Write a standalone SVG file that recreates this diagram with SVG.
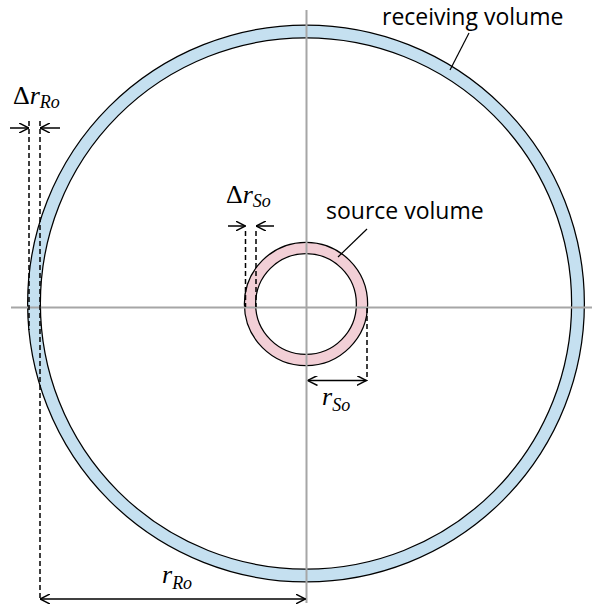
<svg xmlns="http://www.w3.org/2000/svg" width="592" height="611" viewBox="0 0 592 611">
<defs>
<marker id="ah" viewBox="0 0 10 10" refX="10" refY="5" markerWidth="10" markerHeight="10" markerUnits="userSpaceOnUse" orient="auto-start-reverse">
<path d="M0,0 L10,5 L0,10" fill="none" stroke="#000" stroke-width="1.5"/>
</marker>
<style>
.axis{stroke:#a6a6a6;stroke-width:2;fill:none}
.dash{stroke:#000;stroke-width:1.5;stroke-dasharray:5,3;fill:none}
.arr{stroke:#000;stroke-width:1.5;fill:none}
.lead{stroke:#000;stroke-width:1.2;fill:none}
.lbl{font-family:"Open Sans","Liberation Sans",sans-serif;font-size:23px;fill:#000}
.math{font-family:"Liberation Serif",serif;fill:#000}
</style>
</defs>
<rect width="592" height="611" fill="#fff"/>
<g id="receiving-volume">
<circle cx="306" cy="303.5" r="272" fill="none" stroke="#000" stroke-width="14"/>
<circle cx="306" cy="303.5" r="272" fill="none" stroke="#c5e0f0" stroke-width="11.5"/>
</g>
<g id="source-volume">
<circle cx="306" cy="304" r="56" fill="none" stroke="#000" stroke-width="12.5"/>
<circle cx="306" cy="304" r="56" fill="none" stroke="#f2cfd6" stroke-width="10"/>
</g>
<g id="axes">
<line class="axis" x1="11" y1="307.5" x2="592" y2="307.5"/>
<line class="axis" x1="306.5" y1="10" x2="306.5" y2="603"/>
</g>
<g id="connectors">
<line class="dash" x1="29" y1="121" x2="29" y2="330"/>
<line class="dash" x1="40" y1="121" x2="40" y2="600"/>
<line class="arr" x1="10" y1="128" x2="29" y2="128" marker-end="url(#ah)"/>
<line class="arr" x1="60" y1="128" x2="40" y2="128" marker-end="url(#ah)"/>
<line class="dash" x1="245.5" y1="231" x2="245.5" y2="307"/>
<line class="dash" x1="256" y1="231" x2="256" y2="307"/>
<line class="arr" x1="228" y1="226" x2="245.5" y2="226" marker-end="url(#ah)"/>
<line class="arr" x1="274" y1="226" x2="256" y2="226" marker-end="url(#ah)"/>
<line class="dash" x1="367" y1="308" x2="367" y2="381"/>
<line class="arr" x1="307.5" y1="380.5" x2="366.5" y2="380.5" marker-start="url(#ah)" marker-end="url(#ah)"/>
<line class="arr" x1="40" y1="599" x2="305.5" y2="599" marker-start="url(#ah)" marker-end="url(#ah)"/>
<line class="lead" x1="469" y1="33" x2="450" y2="70"/>
<line class="lead" x1="367" y1="229" x2="338" y2="257"/>
</g>
<g id="labels">
<text class="lbl" x="382" y="25">receiving volume</text>
<text class="lbl" x="326" y="219">source volume</text>
<text class="math" x="13" y="104" font-size="26">Δ<tspan font-style="italic">r</tspan><tspan font-style="italic" font-size="18" dy="4">Ro</tspan></text>
<text class="math" x="226" y="203" font-size="26">Δ<tspan font-style="italic">r</tspan><tspan font-style="italic" font-size="18" dy="4">So</tspan></text>
<text class="math" x="322" y="405" font-size="26" font-style="italic">r<tspan font-size="18" dy="6">So</tspan></text>
<text class="math" x="162" y="583" font-size="26" font-style="italic">r<tspan font-size="18" dy="6">Ro</tspan></text>
</g>
</svg>
